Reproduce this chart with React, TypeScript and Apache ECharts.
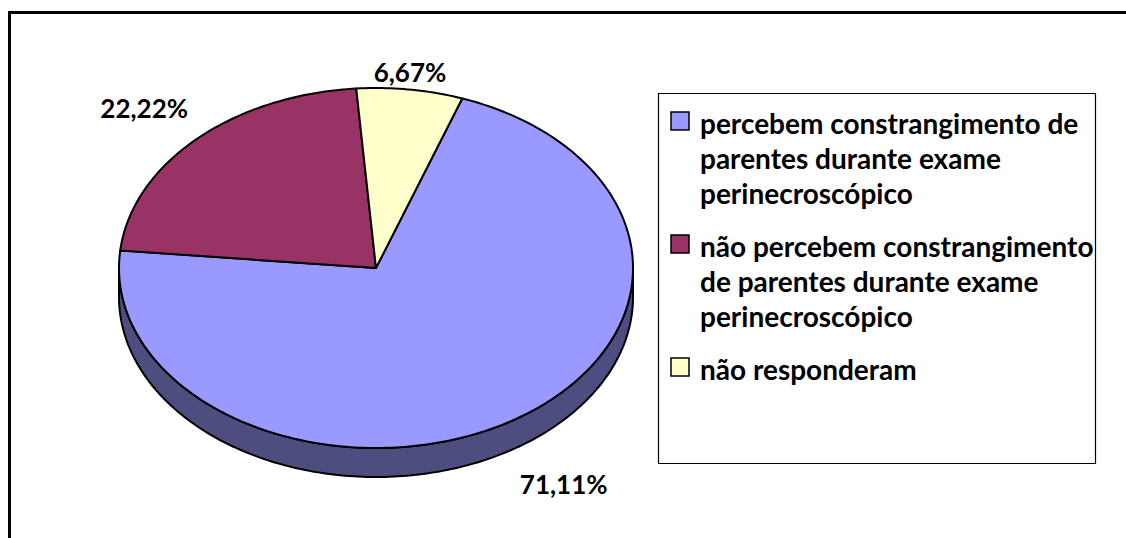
import React, { useEffect, useRef } from "react";
import * as echarts from "echarts";

const CATEGORIES = [
  "percebem constrangimento de parentes durante exame perinecroscópico",
  "não percebem constrangimento de parentes durante exame perinecroscópico",
  "não responderam",
];
const VALUES = [71.11, 22.22, 6.67];
const LABELS = ["71,11%", "22,22%", "6,67%"];
const COLORS = ["#9999FF", "#993366", "#FFFFCC"];
const SIDE_COLORS = ["#4D4D80", "#4D1A33", "#808066"];

// layout (not data)
const PIE = { cx: 376, cy: 268, rx: 257, ry: 180, depth: 29, start: 19.6 };
const LABEL_NUDGE = [
  [50, 35],
  [-52, -31],
  [0, -18],
];
const FONT = "Lato, 'Open Sans', sans-serif";
const LEGEND = { x: 658, y: 93, w: 437, h: 370, textX: 700, firstLine: 123, lineH: 35, gap: 18, fontSize: 28, wrapW: 412 };

const TOTAL = VALUES.reduce((a, b) => a + b, 0);

function sliceRange(i: number): [number, number] {
  let before = 0;
  for (let k = 0; k < i; k++) before += VALUES[k];
  const a0 = PIE.start + (360 * before) / TOTAL;
  const a1 = a0 + (360 * VALUES[i]) / TOTAL;
  return [a0, a1];
}

function pt(deg: number, dy = 0): number[] {
  const r = (deg * Math.PI) / 180;
  return [PIE.cx + PIE.rx * Math.sin(r), PIE.cy - PIE.ry * Math.cos(r) + dy];
}

function arc(a0: number, a1: number, dy = 0): number[][] {
  const n = Math.max(2, Math.ceil(Math.abs(a1 - a0)));
  const out: number[][] = [];
  for (let j = 0; j <= n; j++) out.push(pt(a0 + ((a1 - a0) * j) / n, dy));
  return out;
}

function wrap(text: string, width: number, font: string): string[] {
  const ctx = document.createElement("canvas").getContext("2d")!;
  ctx.font = font;
  const words = text.split(" ");
  const lines: string[] = [];
  let cur = "";
  for (const w of words) {
    const t = cur ? cur + " " + w : w;
    if (ctx.measureText(t).width > width && cur) {
      lines.push(cur);
      cur = w;
    } else cur = t;
  }
  if (cur) lines.push(cur);
  return lines;
}

export default function App() {
  const ref = useRef<HTMLDivElement>(null);
  useEffect(() => {
    const chart = echarts.init(ref.current!, undefined, { renderer: "svg" });

    const legendEls: any[] = [];
    let y = LEGEND.firstLine;
    CATEGORIES.forEach((name, i) => {
      const lines = wrap(name, LEGEND.wrapW, `bold ${LEGEND.fontSize}px Lato`);
      legendEls.push({
        type: "rect",
        shape: { x: 671, y: y - 11, width: 18, height: 18 },
        style: { fill: COLORS[i], stroke: "#000", lineWidth: 1.5 },
      });
      legendEls.push({
        type: "text",
        x: LEGEND.textX,
        y: y - LEGEND.lineH / 2,
        style: {
          text: lines.join("\n"),
          fontSize: LEGEND.fontSize,
          fontWeight: "bold",
          fontFamily: FONT,
          fill: "#000",
          lineHeight: LEGEND.lineH,
          verticalAlign: "top",
          align: "left",
        },
      });
      y += lines.length * LEGEND.lineH + LEGEND.gap;
    });

    const data = VALUES.map((v, i) => ({ value: v, name: CATEGORIES[i] }));

    chart.setOption({
      animation: false,
      backgroundColor: "#fff",
      graphic: [
        {
          type: "rect",
          z: 0,
          shape: { x: 9.5, y: 12.5, width: 1400, height: 800 },
          style: { fill: "none", stroke: "#000", lineWidth: 3 },
        },
        {
          type: "rect",
          shape: { x: LEGEND.x + 0.5, y: LEGEND.y + 0.5, width: LEGEND.w, height: LEGEND.h },
          style: { fill: "#fff", stroke: "#000", lineWidth: 1.2 },
        },
        ...legendEls,
      ],
      series: [
        {
          type: "custom",
          coordinateSystem: "none",
          z: 1,
          data,
          renderItem: (params: any) => {
            const i = params.dataIndex;
            const [a0, a1] = sliceRange(i);
            const children: any[] = [];
            for (const k of [-360, 0, 360]) {
              const s = Math.max(a0, 90 + k);
              const e = Math.min(a1, 270 + k);
              if (e > s) {
                const top = arc(s, e, 0);
                const bot = arc(s, e, PIE.depth).reverse();
                children.push({
                  type: "polygon",
                  shape: { points: top.concat(bot) },
                  style: { fill: SIDE_COLORS[i], stroke: "#000", lineWidth: 2, lineJoin: "round" },
                });
              }
            }
            return { type: "group", children };
          },
        },
        {
          type: "custom",
          coordinateSystem: "none",
          z: 2,
          data,
          renderItem: (params: any) => {
            const i = params.dataIndex;
            const [a0, a1] = sliceRange(i);
            const pts = [[PIE.cx, PIE.cy]].concat(arc(a0, a1));
            const mid = (a0 + a1) / 2;
            const m = ((mid % 360) + 360) % 360;
            const front = m > 90 && m < 270;
            const e = pt(mid, front ? PIE.depth : 0);
            return {
              type: "group",
              children: [
                {
                  type: "polygon",
                  shape: { points: pts },
                  style: { fill: COLORS[i], stroke: "#000", lineWidth: 2, lineJoin: "round" },
                },
                {
                  type: "text",
                  x: e[0] + LABEL_NUDGE[i][0],
                  y: e[1] + LABEL_NUDGE[i][1],
                  style: {
                    text: LABELS[i],
                    fontSize: 26,
                    fontWeight: "bold",
                    fontFamily: FONT,
                    fill: "#000",
                    align: "center",
                    verticalAlign: "middle",
                  },
                },
              ],
            };
          },
        },
      ],
    });
    return () => chart.dispose();
  }, []);
  return <div ref={ref} style={{ position: "fixed", left: 0, top: 0, width: 1126, height: 538 }} />;
}
